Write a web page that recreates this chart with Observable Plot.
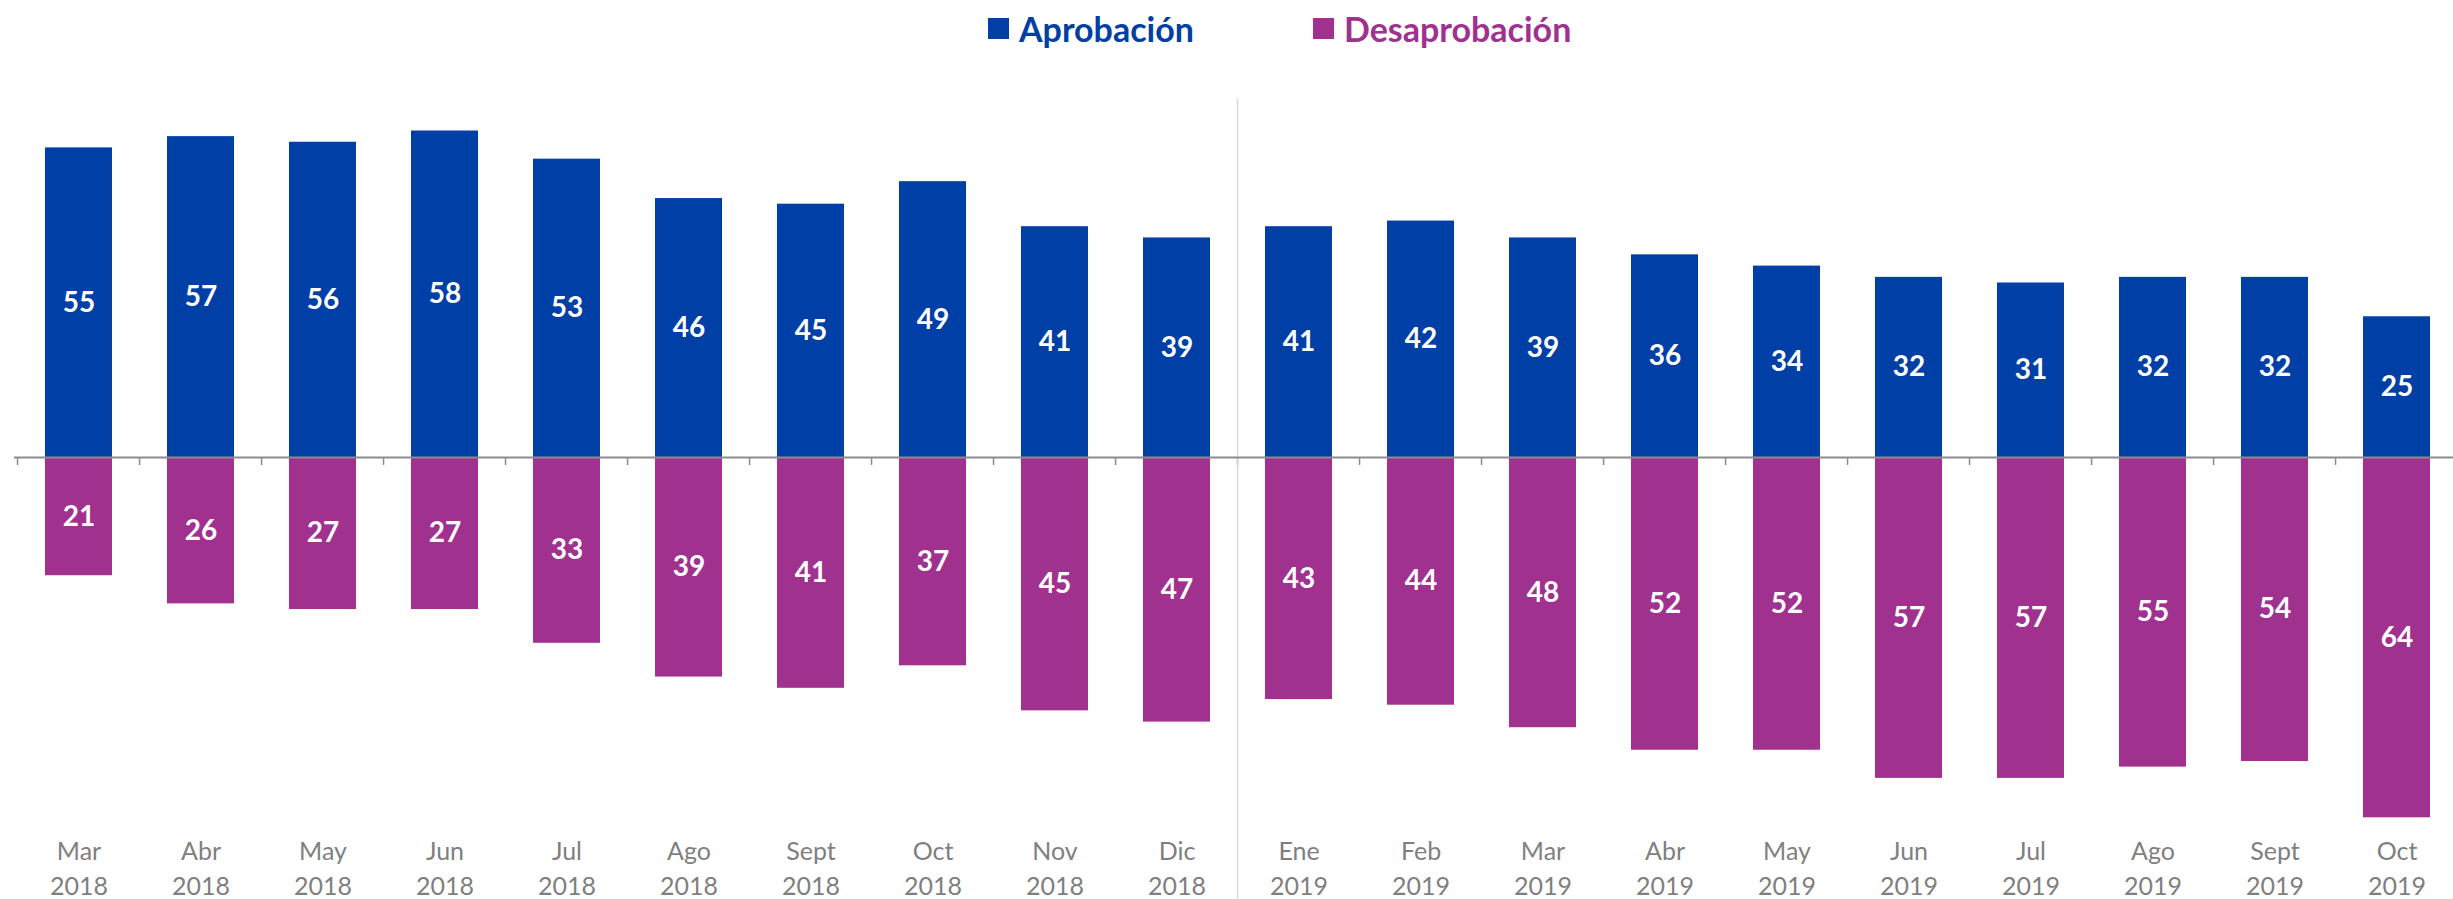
<!DOCTYPE html>
<html>
<head>
<meta charset="utf-8">
<script src="https://cdn.jsdelivr.net/npm/d3@7"></script>
<script src="https://cdn.jsdelivr.net/npm/@observablehq/plot@0.6"></script>
<style>
  html, body { margin: 0; padding: 0; background: #fff; }
  #wrap { width: 2453px; }
  #legend { position: relative; height: 57px; font-family: Lato, "Open Sans", sans-serif; font-weight: 700; font-size: 34px; }
  .item { position: absolute; top: 0; height: 57px; display: flex; align-items: center; }
  .sw { width: 21px; height: 21px; margin-right: 10px; }
</style>
</head>
<body>
<div id="wrap">
  <div id="legend"></div>
  <div id="chart"></div>
</div>
<script>
const months = ["Mar\n2018","Abr\n2018","May\n2018","Jun\n2018","Jul\n2018","Ago\n2018","Sept\n2018","Oct\n2018","Nov\n2018","Dic\n2018",
                "Ene\n2019","Feb\n2019","Mar\n2019","Abr\n2019","May\n2019","Jun\n2019","Jul\n2019","Ago\n2019","Sept\n2019","Oct\n2019"];
const aprobacion    = [55,57,56,58,53,46,45,49,41,39,41,42,39,36,34,32,31,32,32,25];
const desaprobacion = [21,26,27,27,33,39,41,37,45,47,43,44,48,52,52,57,57,55,54,64];
const seriesNames = ["Aprobación", "Desaprobación"];
const seriesColors = ["#003FA6", "#A0318F"];
const dividerBefore = "Ene\n2019";

const PAD_INNER = 0.45, PAD_OUTER = PAD_INNER / 2;

// legend
const legend = document.getElementById("legend");
const legendLeft = [988, 1313];
seriesNames.forEach((name, i) => {
  const it = document.createElement("div");
  it.className = "item";
  it.style.left = legendLeft[i] + "px";
  it.style.color = seriesColors[i];
  it.innerHTML = `<div class="sw" style="background:${seriesColors[i]}"></div><span>${name}</span>`;
  legend.appendChild(it);
});

const data = [];
months.forEach((m, i) => {
  data.push({month: m, serie: seriesNames[0], v: aprobacion[i], label: aprobacion[i]});
  data.push({month: m, serie: seriesNames[1], v: -desaprobacion[i], label: desaprobacion[i]});
});

function boundaries(index, scales, values, dims) {
  const x = scales.x, y = scales.y;
  const step = x(months[1]) - x(months[0]);
  const g = d3.create("svg:g");
  const y0 = y(0);
  for (let i = 0; i <= months.length; i++) {
    const bx = x(months[0]) - step * PAD_OUTER + step * i;
    g.append("line").attr("x1", bx).attr("x2", bx).attr("y1", y0).attr("y2", y0 + 8)
      .attr("stroke", "#8c8c8c").attr("stroke-width", 1.5);
  }
  const k = months.indexOf(dividerBefore);
  const dx = x(months[0]) - step * PAD_OUTER + step * k;
  g.append("line").attr("x1", dx).attr("x2", dx).attr("y1", 42).attr("y2", dims.height)
    .attr("stroke", "#d9d9d9").attr("stroke-width", 1.5);
  return g.node();
}

const chart = Plot.plot({
  width: 2453,
  height: 842,
  marginLeft: 14,
  marginRight: 0,
  marginTop: 0,
  marginBottom: 0,
  style: {fontFamily: "Lato, 'Open Sans', sans-serif", background: "#fff"},
  x: {type: "band", domain: months, range: [14, 2462], paddingInner: PAD_INNER, paddingOuter: PAD_OUTER, axis: null},
  y: {domain: [-64, 58], range: [760.3, 73.5], axis: null},
  color: {domain: seriesNames, range: seriesColors},
  marks: [
    boundaries,
    Plot.barY(data, {x: "month", y: "v", fill: "serie"}),
    Plot.ruleY([0], {stroke: "#8c8c8c", strokeWidth: 2}),
    Plot.text(data, {x: "month", y: d => d.v / 2, text: "label", fill: "white", fontSize: 28, fontWeight: "bold"}),
    Plot.text(months, {x: d => d, text: d => d, frameAnchor: "bottom", lineAnchor: "middle", dy: -33, lineHeight: 1.375, fill: "#7f7f7f", fontSize: 25})
  ]
});
document.getElementById("chart").appendChild(chart);
</script>
</body>
</html>
